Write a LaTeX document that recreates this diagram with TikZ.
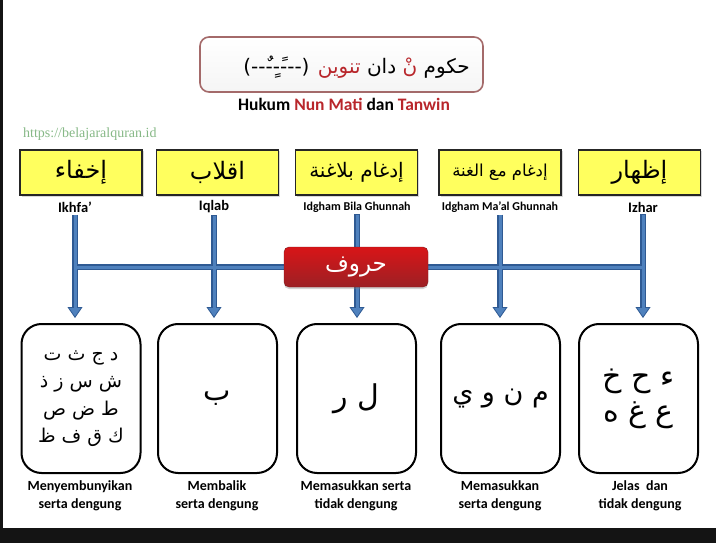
\documentclass[tikz,border=0pt]{standalone}
\usepackage{fontspec}
\setmainfont{Carlito}
\newfontfamily\arab[Script=Arabic]{DejaVu Sans}
\newfontfamily\situs{Liberation Serif}
\usetikzlibrary{arrows.meta,positioning,shadows}
\TeXXeTstate=1

\definecolor{kuning}{HTML}{FFFF5E}
\definecolor{merah}{HTML}{B8262B}
\definecolor{birugaris}{HTML}{4F81BD}
\definecolor{birutepi}{HTML}{2F5A93}
\definecolor{hijausitus}{HTML}{86B886}
\definecolor{bingkai}{HTML}{A46A6A}

\tikzset{
  judulkotak/.style={draw=bingkai,line width=1.6pt,rounded corners=9pt,top color=white,bottom color=black!4},
  kata/.style={inner sep=0pt,font=\arab\fontsize{20}{22}\selectfont},
  jenis/.style={draw=black!85,line width=1.4pt,fill=kuning,minimum width=122pt,minimum height=45pt,inner sep=0pt,
    drop shadow={opacity=.3,shadow xshift=1.5pt,shadow yshift=-1.5pt},font=\arab\fontsize{24}{26}\selectfont},
  nama/.style={inner sep=1pt,font=\bfseries\fontsize{14.5}{16}\selectfont},
  namakecil/.style={inner sep=1pt,font=\bfseries\fontsize{12}{13}\selectfont},
  huruf/.style={draw,line width=2pt,rounded corners=20pt,minimum width=119pt,minimum height=149pt,align=center},
  ket/.style={align=center,font=\bfseries\fontsize{14}{18}\selectfont},
  pusat/.style={draw=merah!70!black,rounded corners=5pt,top color=red!45!merah,bottom color=merah!85!black,
    minimum width=144pt,minimum height=40pt,text=white,font=\arab\fontsize{23}{24}\selectfont,
    drop shadow={opacity=.35,shadow xshift=0pt,shadow yshift=-2pt}},
  tepi/.style={line width=5.5pt,draw=birutepi,shorten <=1pt,shorten >=5pt,
    -{Triangle[width=15pt,length=11pt,line width=0.8pt,fill=birugaris]}},
  isi/.style={line width=3pt,draw=birugaris,shorten <=1.5pt,shorten >=15pt},
  tepibar/.style={line width=5.5pt,draw=birutepi},
  isibar/.style={line width=3pt,draw=birugaris}
}

\begin{document}
\begin{tikzpicture}[x=1pt,y=-1pt]
\useasboundingbox (0,0) rectangle (716,543);
% bingkai hitam dari tangkapan layar
\fill[black!92] (0,528) rectangle (716,543);
\fill[black!92] (0,0) rectangle (2.5,528);

% judul
\draw[judulkotak] (200,37) rectangle (483,92);
\node[kata,anchor=base east] (w1) at (470,74) {\beginR حكوم\endR};
\node[kata,text=merah,base left=6pt of w1] (w2) {\beginR نْ\endR};
\node[kata,base left=6pt of w2] (w3) {\beginR دان\endR};
\node[kata,text=merah,base left=6pt of w3] (w4) {\beginR تنوين\endR};
\node[kata,base left=8pt of w4] (w5) {(‐‐‐ً‐ٍ‐ٌ‐‐)};
\node[font=\bfseries\fontsize{17.5}{20}\selectfont] (subjudul) at (344,104)
  {Hukum \textcolor{merah}{Nun Mati} dan \textcolor{merah}{Tanwin}};
\node[anchor=west,inner sep=0pt,text=hijausitus,font=\situs\fontsize{14}{16}\selectfont] (situs) at (23,134)
  {https://belajaralquran.id};

% lima hukum
\node[jenis] (j1) at (81,172.5) {\beginR إخفاء\endR};
\node[jenis] (j2) at (217.5,172.5) {\beginR اقلاب\endR};
\node[jenis,font=\arab\fontsize{20}{22}\selectfont] (j3) at (356.5,172.5) {\beginR إدغام بلاغنة\endR};
\node[jenis,font=\arab\fontsize{16.5}{18}\selectfont] (j4) at (500,172.5) {\beginR إدغام مع الغنة\endR};
\node[jenis] (j5) at (639.5,172.5) {\beginR إظهار\endR};

\node[nama] (n1) at (75,207) {Ikhfa’};
\node[nama] (n2) at (214,207) {Iqlab};
\node[namakecil] (n3) at (357,207) {Idgham Bila Ghunnah};
\node[namakecil] (n4) at (500,207) {Idgham Ma’al Ghunnah};
\node[nama] (n5) at (643,207) {Izhar};

% kotak huruf
\node[huruf,font=\arab\fontsize{19}{27.5}\selectfont] (h1) at (81,398.5)
  {\beginR د ج ث ت\endR\\\beginR ش س ز ذ\endR\\\beginR ط ض ص\endR\\\beginR ك ق ف ظ\endR};
\node[huruf,font=\arab\fontsize{29}{30}\selectfont] (h2) at (217.5,398.5) {\beginR ب\endR};
\node[huruf,font=\arab\fontsize{30}{30}\selectfont] (h3) at (356.5,398.5) {\beginR ل ر\endR};
\node[huruf,font=\arab\fontsize{27}{30}\selectfont] (h4) at (500.5,398.5) {\beginR م ن و ي\endR};
\node[huruf,font=\arab\fontsize{30}{35}\selectfont] (h5) at (638.5,398.5) {\beginR ء ح خ\endR\\\beginR ع غ ه\endR};

\node[ket] (k1) at (80,496) {Menyembunyikan\\serta dengung};
\node[ket] (k2) at (217,496) {Membalik\\serta dengung};
\node[ket] (k3) at (356,496) {Memasukkan serta\\tidak dengung};
\node[ket] (k4) at (500,496) {Memasukkan\\serta dengung};
\node[ket] (k5) at (640,496) {Jelas~~dan\\tidak dengung};

% garis biru
\coordinate (tengah) at (356,267);
\foreach \i in {1,...,5}
  \draw[tepi] (n\i.south) -- (n\i.south |- h\i.north);
\draw[tepibar] (n1 |- tengah) -- (n5 |- tengah);
\foreach \i in {1,...,5}
  \draw[isi] (n\i.south) -- (n\i.south |- h\i.north);
\draw[isibar] (n1 |- tengah) -- (n5 |- tengah);

\node[pusat] (hub) at (tengah) {\beginR حروف\endR};
\end{tikzpicture}
\end{document}
